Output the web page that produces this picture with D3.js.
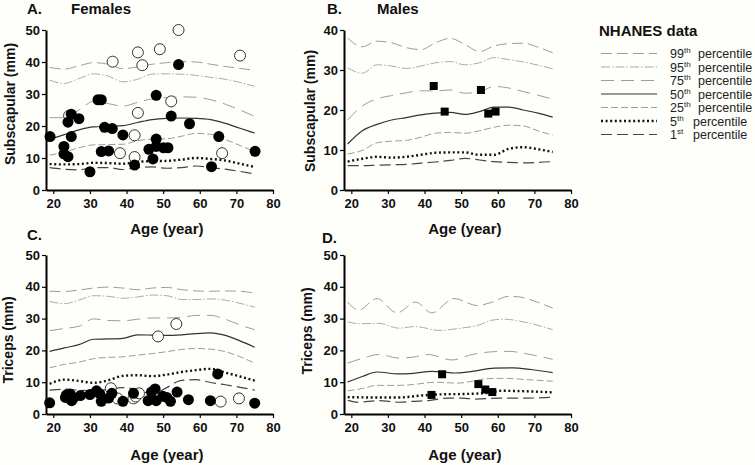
<!DOCTYPE html>
<html><head><meta charset="utf-8">
<script src="https://cdn.jsdelivr.net/npm/d3@7"></script>
<style>
body{margin:0;background:#fefefa}
svg{display:block}
text{font-family:Arial,"Liberation Sans",sans-serif}
</style>
</head><body>
<svg id="c" width="755" height="465"></svg>
<script>
// ---------- DATA ----------
const ageTicks = [20, 30, 40, 50, 60, 70, 80];
const yTicks50 = [0, 10, 20, 30, 40, 50];
const yTicks40 = [0, 10, 20, 30, 40];
const ageGrid = [19, 23, 27, 31, 35, 39, 43, 47, 51, 55, 59, 63, 67, 71, 75];

const percentileKeys = ["p99", "p95", "p75", "p50", "p25", "p5", "p1"];
const percentileNums = ["99", "95", "75", "50", "25", "5", "1"];
const percentileSup = ["th", "th", "th", "th", "th", "th", "st"];

// A. Females subscapular
const femSubP99 = [38.3,37.8,38.8,39.8,39.3,37.9,38.5,39.3,39.8,40.1,40,39.3,38.6,38,37.4];
const femSubP95 = [34.3,33.3,34.8,36.3,35.6,33.8,34.6,36.2,36.3,36.2,35.8,35.2,34.6,33.6,32.4];
const femSubP75 = [22.6,22.6,25,27.7,27,26.2,27.4,28.5,28.9,29.1,29,28.2,26.8,25,23];
const femSubP50 = [15.8,17.3,18.8,19.7,19.9,20.1,21.1,22,22.4,22.5,22.4,22,20.8,19.3,17.8];
const femSubP25 = [10.9,11.8,13.2,14.1,14.2,14.3,15.4,15.9,16,16.8,17.7,17.4,15.8,13.9,12];
const femSubP5  = [8.1,8,8.1,8.5,8.4,8.2,8.8,9,9.1,9.5,10,9.7,9.2,8.2,7.2];
const femSubP1  = [7,6.5,6.3,7,7,6.4,7,7.2,6.8,7,7.5,7,6.5,5.8,5];
const femSubFilled = [[19.1,16.7],[22.9,13.6],[22.9,11.3],[24.0,10.4],[24.0,21.2],[24.9,23.7],[27.0,22.3],[24.9,16.7],[30.0,5.7],[32.2,28.2],[33.1,28.2],[33.1,12],[34.0,19.6],[35.1,12.2],[36.1,19.2],[39.0,17.2],[42.2,7.8],[46.1,12.7],[47.2,9.7],[48.1,29.6],[48.1,15.9],[48.1,13.6],[50.1,13.2],[51.3,13.2],[52.2,23.1],[54.2,39.2],[57.2,20.7],[63.2,7.3],[65.2,16.7],[75.1,12.1]];
const femSubOpen = [[24.3,23.2],[36.2,40.1],[38.2,11.5],[42.2,17.1],[42.2,10.3],[43.1,43.0],[43.1,24.1],[44.3,39.0],[49.1,44.0],[52.2,27.7],[54.2,50.0],[66.1,11.5],[71.0,42.0]];

// B. Males subscapular
const maleSubP99 = [38,35.8,37.2,36.8,35.6,35.1,36.8,37.9,36.4,34.6,36,36.6,36.7,35.7,34.3];
const maleSubP95 = [30.5,29.2,31.3,31,30.4,31,31.8,32.1,31.3,31.8,33.1,32.6,32,31.2,30.3];
const maleSubP75 = [17.5,21,22.8,23.6,24.3,24.8,24.8,25,24.2,24.5,25.9,25.5,24.6,23.7,22.7];
const maleSubP50 = [11.5,14.8,16.4,17.5,18.1,18.8,19.2,19.4,18.9,19.6,20.7,20.7,20,19.2,18.2];
const maleSubP25 = [9,9.9,11.8,12.2,12.4,13.2,14.2,14.4,14.2,14.8,15.7,16.2,16,14.8,13.7];
const maleSubP5  = [7.1,7.8,8.3,8.1,8.3,8.8,9.3,9.4,9.4,8.8,8.8,10.3,10.7,10.2,9.5];
const maleSubP1  = [6.1,6.1,6.2,6.3,6.4,6.7,7,7.4,7.9,7.5,7.1,6.9,6.8,6.9,7.1];
const maleSubPoints = [[42.5,26],[45.5,19.6],[55.4,25],[57.4,19.1],[59.4,19.6]];

// C. Females triceps
const femTriP99 = [38.6,38.5,39,39.6,39.9,39.6,39.1,39.6,39.8,39.1,38.7,38.6,38.7,38.6,38];
const femTriP95 = [35.4,34.7,35.8,37.2,37,36.4,36.8,37.4,37.2,36,36,36.2,35.8,34.8,33.6];
const femTriP75 = [26.2,26.9,27.6,29.9,29.4,29.3,29.8,30.2,30.2,30.4,31,31,29.8,28,26.5];
const femTriP50 = [19.7,20.8,21.8,23.5,23.6,23.8,24.9,24.8,24.7,24.9,25.3,25.5,24.7,23,21];
const femTriP25 = [14.5,15.6,16.3,17.4,17.8,18,18.5,19,19.6,20.3,20.6,20.4,19.6,18,16];
const femTriP5  = [9.5,10.8,10.4,9.8,10.6,12,12.2,11.9,12.4,13.2,13.8,14.2,13,11.8,10.5];
const femTriP1  = [7.5,7.8,7.5,7.3,7.7,8.3,7.6,6.3,8.3,10.6,10.8,9.9,9.2,8.4,7.5];
const femTriFilled = [[19,3.5],[23.3,5.2],[23.6,6],[24.6,6.3],[25,4.2],[25.5,5],[27.4,5.8],[30,6.1],[31.8,7.3],[32.7,6.3],[33.1,4],[35.1,5],[36,6.5],[39,4],[41.9,6.5],[45.9,4.2],[46.8,6.9],[47.8,7.9],[48.1,4.2],[49.9,5.6],[51,5.2],[52,4],[53.8,6.9],[56.9,4.5],[62.9,4.2],[64.9,12.6],[75,3.4]];
const femTriOpen = [[23.8,6],[35.7,8.1],[37.5,4.9],[41.9,4.9],[42.5,5.5],[43.4,6.5],[48.6,24.4],[53.6,28.3],[65.7,3.9],[70.7,4.9]];

// D. Males triceps
const maleTriP99 = [[19,35.2],[22,32.7],[27,36.3],[32.5,31.8],[37.5,35.2],[42,31.8],[48,36.3],[54.5,34.1],[58,35],[63,37],[66,36.8],[70,35.5],[75,33.3]];
const maleTriP95 = [[19,29],[22,28.4],[27.5,28.5],[33,27],[37.5,27.5],[44,26.3],[50,27],[54,27.7],[59,29.6],[62,29.8],[66,29.2],[75,26.5]];
const maleTriP75 = [[19,16],[23,17.5],[27.5,18.7],[33,17.6],[37,17.9],[41,18.7],[47.5,17],[53,18.7],[59,19.6],[63,19.7],[68,18.9],[75,17.2]];
const maleTriP50 = [[19,10.1],[23,11.8],[27,13.2],[33,12.6],[37,12.8],[42,13.4],[48,12.9],[53,13.4],[59,14.4],[64,14.5],[69,14],[75,13]];
const maleTriP25 = [[19,7.3],[23,8],[27,9],[33,9],[37,9.3],[43,10],[49,9.7],[53,10.3],[57,11.1],[62,11.2],[68,10.8],[75,10.3]];
const maleTriP5  = [[19,5.3],[26,5.2],[33,5.2],[39,5.8],[45,6.2],[51,6.3],[57,6.6],[61,7.3],[66,7.2],[75,6.8]];
const maleTriP1  = [[19,4.3],[22,3.7],[27.5,4.2],[33,3.7],[37,4],[41,4.2],[46.5,5],[50,5],[54,4.7],[61,5],[68,5],[75,5.3]];
const maleTriPoints = [[41.9,6],[44.8,12.5],[54.7,9.4],[56.6,7.7],[58.5,6.9]];

// ---------- DRAWING ----------
const zip = vals => vals.map((v, i) => [ageGrid[i], v]);
const svg = d3.select("#c");
svg.append("rect").attr("width", 755).attr("height", 465).attr("fill", "#fefefa");

const styles = {
  p99: {stroke: "#9c9c9c", w: 1, dash: "11,5"},
  p95: {stroke: "#ababab", w: 1, dash: "9,2,1.5,2"},
  p75: {stroke: "#9c9c9c", w: 1, dash: "13,7"},
  p50: {stroke: "#333", w: 1.2, dash: null},
  p25: {stroke: "#9c9c9c", w: 1, dash: "7,3"},
  p5:  {stroke: "#111", w: 2.4, dash: "2,2.6"},
  p1:  {stroke: "#444", w: 1.2, dash: "11,5"}
};

const panels = [
  {xr: [46, 273], yr: [190, 30], ymax: 50, yt: yTicks50, ylabel: "Subscapular (mm)", ylx: 15, yly: 104,
   curves: {p99: zip(femSubP99), p95: zip(femSubP95), p75: zip(femSubP75), p50: zip(femSubP50), p25: zip(femSubP25), p5: zip(femSubP5), p1: zip(femSubP1)},
   open: femSubOpen, filled: femSubFilled, squares: [], xlY: 234},
  {xr: [344, 571], yr: [190, 30], ymax: 40, yt: yTicks40, ylabel: "Subscapular (mm)", ylx: 315, yly: 111,
   curves: {p99: zip(maleSubP99), p95: zip(maleSubP95), p75: zip(maleSubP75), p50: zip(maleSubP50), p25: zip(maleSubP25), p5: zip(maleSubP5), p1: zip(maleSubP1)},
   open: [], filled: [], squares: maleSubPoints, xlY: 234},
  {xr: [46, 273], yr: [414, 255], ymax: 50, yt: yTicks50, ylabel: "Triceps (mm)", ylx: 13, yly: 340,
   curves: {p99: zip(femTriP99), p95: zip(femTriP95), p75: zip(femTriP75), p50: zip(femTriP50), p25: zip(femTriP25), p5: zip(femTriP5), p1: zip(femTriP1)},
   open: femTriOpen, filled: femTriFilled, squares: [], xlY: 460},
  {xr: [344, 571], yr: [414, 255], ymax: 50, yt: yTicks50, ylabel: "Triceps (mm)", ylx: 312, yly: 331,
   curves: {p99: maleTriP99, p95: maleTriP95, p75: maleTriP75, p50: maleTriP50, p25: maleTriP25, p5: maleTriP5, p1: maleTriP1},
   open: [], filled: [], squares: maleTriPoints, xlY: 460}
];

panels.forEach(cfg => {
  const x = d3.scaleLinear().domain([18, 80]).range(cfg.xr);
  const y = d3.scaleLinear().domain([0, cfg.ymax]).range(cfg.yr);
  const g = svg.append("g");
  const line = d3.line().x(d => x(d[0])).y(d => y(d[1])).curve(d3.curveMonotoneX);

  percentileKeys.forEach(k => {
    const s = styles[k];
    g.append("path").datum(cfg.curves[k]).attr("d", line)
      .attr("fill", "none").attr("stroke", s.stroke).attr("stroke-width", s.w)
      .attr("stroke-dasharray", s.dash);
  });

  g.selectAll(".op").data(cfg.open).join("circle")
    .attr("cx", d => x(d[0])).attr("cy", d => y(d[1])).attr("r", 5.5)
    .attr("fill", "#fefefa").attr("stroke", "#333").attr("stroke-width", 1);
  g.selectAll(".fi").data(cfg.filled).join("circle")
    .attr("cx", d => x(d[0])).attr("cy", d => y(d[1])).attr("r", 5.5)
    .attr("fill", "#000");
  g.selectAll(".sq").data(cfg.squares).join("rect")
    .attr("x", d => x(d[0]) - 4).attr("y", d => y(d[1]) - 4)
    .attr("width", 8).attr("height", 8).attr("fill", "#000");

  const xa = g.append("g").attr("transform", `translate(0,${cfg.yr[0]})`)
    .call(d3.axisBottom(x).tickValues(ageTicks).tickSize(4).tickSizeOuter(0).tickPadding(5));
  const ya = g.append("g").attr("transform", `translate(${cfg.xr[0]},0)`)
    .call(d3.axisLeft(y).tickValues(cfg.yt).tickSize(4).tickSizeOuter(0).tickPadding(2));
  [xa, ya].forEach(a => {
    a.select(".domain").attr("stroke", "#000").attr("stroke-width", 2);
    a.selectAll(".tick line").attr("stroke", "#000").attr("stroke-width", 1.2);
    a.selectAll(".tick text").attr("font-size", 13).attr("font-weight", "bold").attr("fill", "#111")
      .attr("font-family", "Arial, 'Liberation Sans', sans-serif");
  });

  svg.append("text").attr("x", x(51)).attr("y", cfg.xlY).attr("text-anchor", "middle")
    .attr("font-size", 15).attr("font-weight", "bold").attr("fill", "#111").text("Age (year)");
  svg.append("text").attr("transform", `translate(${cfg.ylx},${cfg.yly}) rotate(-90)`)
    .attr("text-anchor", "middle").attr("font-size", 14).attr("font-weight", "bold").attr("fill", "#111")
    .text(cfg.ylabel);
});

// Panel titles
const titles = [
  {t: "A.", x: 27, y: 14}, {t: "Females", x: 71, y: 14},
  {t: "B.", x: 327, y: 14}, {t: "Males", x: 377, y: 14},
  {t: "C.", x: 27, y: 240}, {t: "D.", x: 322, y: 243}
];
titles.forEach(d => svg.append("text").attr("x", d.x).attr("y", d.y)
  .attr("font-size", 15).attr("font-weight", "bold").attr("fill", "#111").text(d.t));

// Legend
const lg = svg.append("g");
lg.append("text").attr("x", 599).attr("y", 36).attr("font-size", 15).attr("font-weight", "bold")
  .attr("fill", "#111").text("NHANES data");
percentileKeys.forEach((k, i) => {
  const yy = 53.5 + i * 13.5;
  const s = styles[k];
  lg.append("line").attr("x1", 601).attr("x2", 657).attr("y1", yy).attr("y2", yy)
    .attr("stroke", s.stroke).attr("stroke-width", s.w).attr("stroke-dasharray", s.dash);
  const t = lg.append("text").attr("x", 670).attr("y", yy + 4.5).attr("font-size", 12.5).attr("fill", "#222");
  t.append("tspan").text(percentileNums[i]);
  t.append("tspan").attr("font-size", 8).attr("dy", -5).text(percentileSup[i]);
  t.append("tspan").attr("x", i >= 5 ? 693 : 698).attr("dy", 5).text("percentile");
});
</script>
</body></html>
